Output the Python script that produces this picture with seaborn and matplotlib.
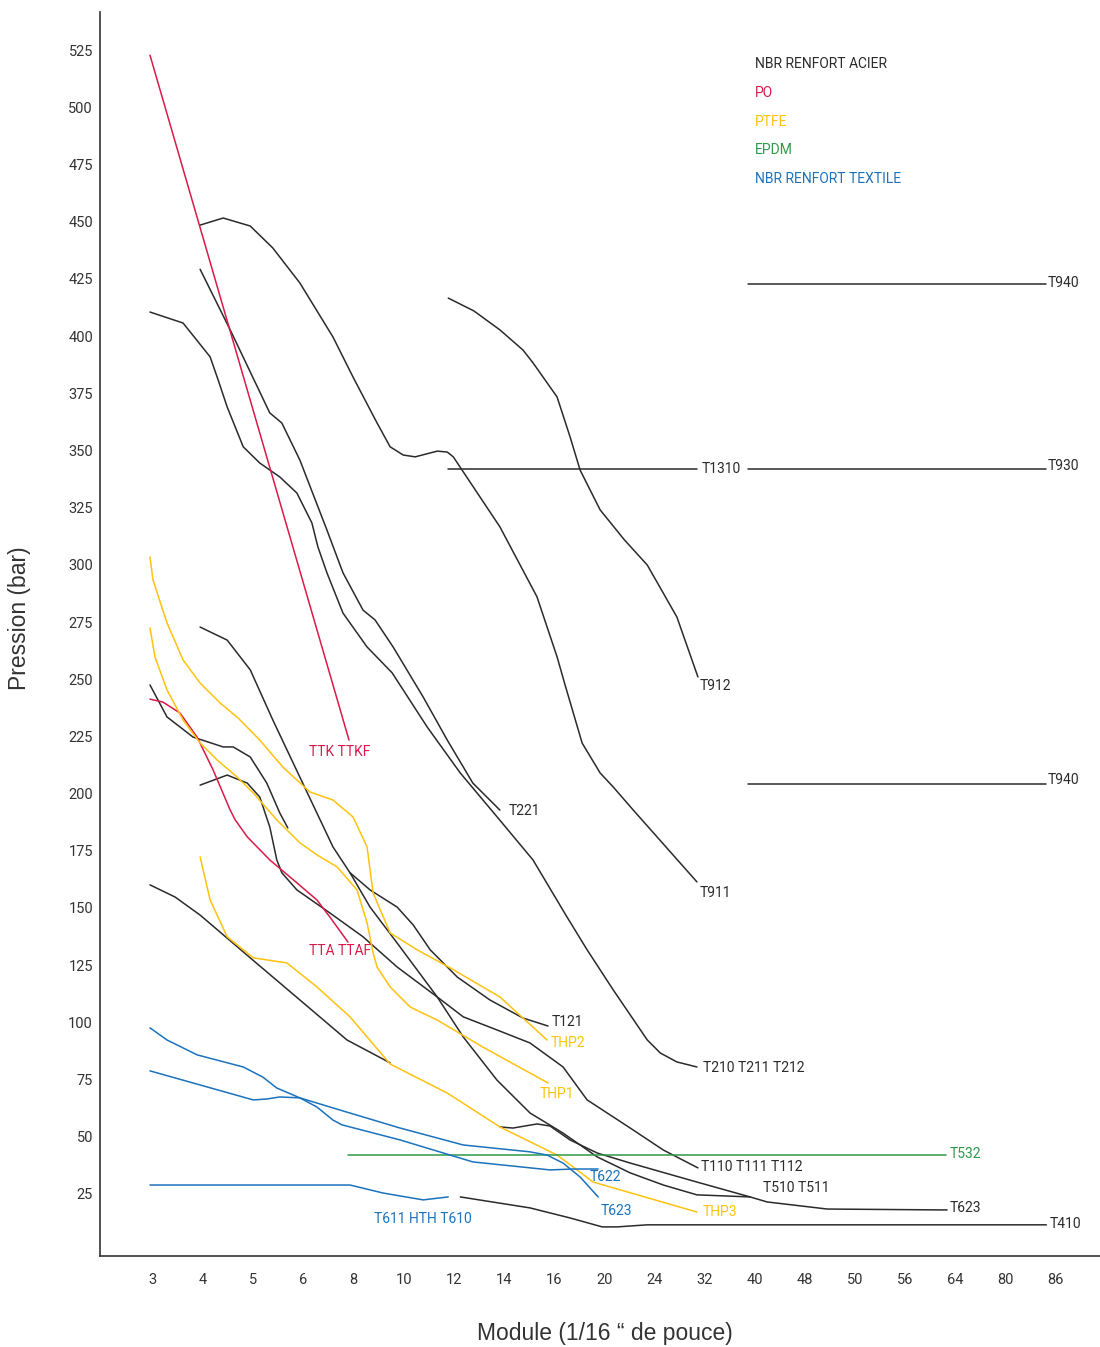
import pandas as pd
import seaborn as sns
import matplotlib.pyplot as plt

# x axis: module sizes shown at evenly spaced positions (index along the axis)
modules = ["3", "4", "5", "6", "8", "10", "12", "14", "16", "20",
           "24", "32", "40", "48", "50", "56", "64", "80", "86"]
y_ticks = list(range(25, 526, 25))

# Curves: x = position along the module axis, y = pressure (bar)
# NBR renfort acier
t911_x = [0.94, 1.40, 1.94, 2.39, 2.93, 3.59, 3.99, 4.47, 4.73, 4.99, 5.23, 5.67, 5.87, 5.99,
          6.92, 7.66, 8.06, 8.22, 8.56, 8.92, 9.18, 9.58, 10.85]
t911_y = [448.5, 451.6, 448.1, 438.5, 423.2, 399.6, 382.1, 362.0, 351.6, 348.0, 347.2, 349.7, 349.3, 347.2,
          316.6, 286.0, 259.8, 247.5, 222.1, 209.0, 202.9, 192.8, 161.4]

t912_x = [5.89, 6.40, 6.92, 7.38, 7.58, 8.06, 8.32, 8.52, 8.92, 9.40, 9.86, 10.45, 10.87]
t912_y = [416.6, 411.0, 402.7, 393.9, 388.3, 373.4, 355.9, 341.4, 324.0, 311.0, 299.9, 277.2, 251.0]

t221_x = [0.94, 1.54, 2.33, 2.57, 2.93, 3.47, 3.79, 4.19, 4.43, 4.79, 5.39, 5.87, 6.38, 6.92]
t221_y = [429.2, 402.7, 366.4, 362.0, 345.8, 315.2, 296.5, 280.2, 275.9, 264.1, 242.2, 223.4, 204.6, 192.8]

t210_x = [-0.06, 0.60, 1.14, 1.30, 1.48, 1.80, 2.13, 2.53, 2.87, 3.17, 3.29, 3.47, 3.79, 4.27,
          4.77, 5.47, 6.13, 6.88, 7.58, 8.26, 8.66, 9.18, 9.86, 10.12, 10.45, 10.85]
t210_y = [410.5, 405.7, 390.9, 380.8, 369.0, 351.6, 344.5, 338.4, 331.4, 318.3, 307.8, 296.5, 278.9, 264.1,
          252.8, 229.1, 209.0, 189.4, 171.0, 146.0, 131.7, 114.2, 92.3, 86.6, 82.7, 80.5]

t121_x = [0.94, 1.48, 1.94, 2.39, 2.93, 3.59, 3.93, 4.33, 4.87, 5.19, 5.53, 6.07, 6.72, 7.38, 7.88]
t121_y = [272.8, 267.1, 254.1, 232.2, 207.2, 176.7, 165.4, 157.9, 150.4, 142.6, 131.7, 119.8, 109.8, 101.9, 98.4]

t510_x = [3.93, 4.33, 4.87, 5.67, 6.19, 6.86, 7.52, 8.18, 8.86, 9.52, 10.18, 10.85, 11.91]
t510_y = [165.4, 150.4, 134.7, 111.1, 93.6, 74.8, 60.4, 51.6, 41.2, 34.2, 28.9, 24.6, 23.7]

t623_x = [6.92, 7.18, 7.66, 7.92, 8.32, 8.86, 9.52, 10.85, 11.91, 12.25, 13.45, 15.84]
t623_y = [54.3, 53.8, 55.6, 54.7, 48.6, 42.9, 38.5, 30.2, 23.7, 21.5, 18.4, 18.0]

t110_x = [0.94, 1.48, 1.88, 2.13, 2.33, 2.47, 2.57, 2.87, 3.53, 4.19, 4.87, 5.67, 6.19, 6.86,
          7.52, 8.18, 8.66, 9.52, 10.18, 10.87]
t110_y = [203.7, 208.1, 204.6, 198.5, 185.4, 171.0, 165.4, 157.9, 147.8, 137.4, 124.2, 111.1, 102.4, 96.7,
          91.0, 80.5, 66.1, 53.8, 44.2, 36.4]

short_x = [-0.06, 0.28, 0.80, 1.40, 1.60, 1.94, 2.27, 2.53, 2.69]
short_y = [247.5, 233.5, 224.7, 220.4, 220.4, 216.0, 204.6, 191.5, 185.0]

low_x = [-0.06, 0.44, 0.94, 1.94, 2.93, 3.87, 4.73]
low_y = [160.1, 154.8, 146.9, 128.2, 109.8, 92.3, 82.3]

t410_x = [6.13, 7.52, 8.32, 8.96, 9.26, 9.86, 17.82]
t410_y = [23.7, 18.9, 14.5, 10.6, 10.6, 11.5, 11.5]

t1310_x = [5.89, 10.85]
t1310_y = [342.0, 342.0]
t930_x = [11.87, 17.82]
t930_y = [342.0, 342.0]
t940a_x = [11.87, 17.82]
t940a_y = [422.7, 422.7]
t940b_x = [11.87, 17.82]
t940b_y = [204.3, 204.3]

# PO
ttk_x = [-0.06, 3.91]
ttk_y = [522.8, 223.4]
tta_x = [-0.06, 0.20, 0.54, 0.88, 1.20, 1.54, 1.64, 1.88, 2.33, 2.87, 3.27, 3.53, 3.89]
tta_y = [241.3, 240.0, 235.2, 224.7, 210.3, 192.8, 188.5, 181.1, 171.0, 161.0, 153.5, 146.0, 135.1]

# PTFE
thp2_x = [-0.06, 0.00, 0.28, 0.60, 0.94, 1.34, 1.70, 2.13, 2.59, 3.13, 3.59, 3.99, 4.27, 4.39,
          4.73, 5.27, 5.93, 6.92, 7.86]
thp2_y = [303.4, 293.4, 274.6, 258.4, 248.3, 239.6, 233.0, 223.4, 211.6, 200.7, 197.2, 189.8, 176.7, 156.6,
          139.1, 131.7, 123.8, 111.1, 92.3]

thp1_x = [-0.06, 0.04, 0.28, 0.60, 0.94, 1.28, 1.68, 2.00, 2.47, 2.93, 3.27, 3.67, 4.07, 4.27,
          4.39, 4.47, 4.73, 5.13, 5.67, 6.58, 7.88]
thp1_y = [272.4, 259.7, 245.3, 232.2, 222.1, 214.7, 207.2, 200.3, 188.5, 178.5, 173.2, 168.0, 157.9, 143.5,
          130.4, 124.2, 115.5, 106.7, 101.0, 89.2, 73.5]

thp3_x = [0.94, 1.14, 1.48, 2.00, 2.67, 3.27, 3.93, 4.73, 5.87, 6.92, 8.06, 8.46, 8.78, 10.85]
thp3_y = [172.3, 153.5, 137.4, 128.2, 126.0, 115.5, 102.4, 81.8, 69.1, 54.3, 42.0, 35.5, 30.2, 17.1]

# EPDM
t532_x = [3.89, 15.82]
t532_y = [42.0, 42.0]

# NBR renfort textile
t622_x = [-0.06, 0.28, 0.88, 1.80, 2.19, 2.47, 2.93, 3.27, 3.59, 3.77, 4.93, 6.38, 7.92, 8.38, 8.88]
t622_y = [97.6, 92.3, 85.8, 80.5, 76.1, 71.3, 67.0, 63.0, 57.3, 55.2, 48.6, 39.0, 35.5, 35.9, 35.9]

t623b_x = [-0.06, 2.00, 2.27, 2.53, 2.93, 3.59, 4.93, 6.19, 7.52, 7.86, 8.18, 8.52, 8.88]
t623b_y = [78.8, 66.1, 66.5, 67.4, 67.0, 62.6, 53.8, 46.4, 43.4, 42.0, 38.5, 32.4, 23.7]

t611_x = [-0.06, 3.93, 4.59, 5.39, 5.89]
t611_y = [28.9, 28.9, 25.4, 22.4, 23.7]

families = ["NBR RENFORT ACIER", "PO", "PTFE", "EPDM", "NBR RENFORT TEXTILE"]
colors = ["#2b2b2b", "#d81b4a", "#ffc20e", "#2e9a48", "#1b72bd"]
palette = dict(zip(families, colors))

curves = [
    ("t911", "NBR RENFORT ACIER", t911_x, t911_y),
    ("t912", "NBR RENFORT ACIER", t912_x, t912_y),
    ("t221", "NBR RENFORT ACIER", t221_x, t221_y),
    ("t210", "NBR RENFORT ACIER", t210_x, t210_y),
    ("t121", "NBR RENFORT ACIER", t121_x, t121_y),
    ("t510", "NBR RENFORT ACIER", t510_x, t510_y),
    ("t623", "NBR RENFORT ACIER", t623_x, t623_y),
    ("t110", "NBR RENFORT ACIER", t110_x, t110_y),
    ("short", "NBR RENFORT ACIER", short_x, short_y),
    ("low", "NBR RENFORT ACIER", low_x, low_y),
    ("t410", "NBR RENFORT ACIER", t410_x, t410_y),
    ("t1310", "NBR RENFORT ACIER", t1310_x, t1310_y),
    ("t930", "NBR RENFORT ACIER", t930_x, t930_y),
    ("t940a", "NBR RENFORT ACIER", t940a_x, t940a_y),
    ("t940b", "NBR RENFORT ACIER", t940b_x, t940b_y),
    ("ttk", "PO", ttk_x, ttk_y),
    ("tta", "PO", tta_x, tta_y),
    ("thp2", "PTFE", thp2_x, thp2_y),
    ("thp1", "PTFE", thp1_x, thp1_y),
    ("thp3", "PTFE", thp3_x, thp3_y),
    ("t532", "EPDM", t532_x, t532_y),
    ("t622", "NBR RENFORT TEXTILE", t622_x, t622_y),
    ("t623b", "NBR RENFORT TEXTILE", t623b_x, t623b_y),
    ("t611", "NBR RENFORT TEXTILE", t611_x, t611_y),
]

rows = []
for name, fam, xs, ys in curves:
    for x, y in zip(xs, ys):
        rows.append({"curve": name, "family": fam, "x": x, "y": y})
df = pd.DataFrame(rows)

# curve labels (text, family, x, y)
labels = [
    ("TTK TTKF", "PO", 3.11, 218.1),
    ("TTA TTAF", "PO", 3.11, 131.2),
    ("T221", "NBR RENFORT ACIER", 7.10, 192.4),
    ("T911", "NBR RENFORT ACIER", 10.91, 156.6),
    ("T912", "NBR RENFORT ACIER", 10.91, 247.1),
    ("T1310", "NBR RENFORT ACIER", 10.95, 341.9),
    ("T930", "NBR RENFORT ACIER", 17.84, 343.2),
    ("T940", "NBR RENFORT ACIER", 17.84, 423.1),
    ("T940", "NBR RENFORT ACIER", 17.84, 206.0),
    ("T121", "NBR RENFORT ACIER", 7.96, 100.2),
    ("THP2", "PTFE", 7.94, 91.0),
    ("THP1", "PTFE", 7.72, 68.7),
    ("T210 T211 T212", "NBR RENFORT ACIER", 10.97, 80.0),
    ("T110 T111 T112", "NBR RENFORT ACIER", 10.93, 36.8),
    ("T510 T511", "NBR RENFORT ACIER", 12.17, 27.6),
    ("T532", "EPDM", 15.90, 42.4),
    ("T623", "NBR RENFORT ACIER", 15.90, 18.9),
    ("T410", "NBR RENFORT ACIER", 17.88, 11.9),
    ("T622", "NBR RENFORT TEXTILE", 8.72, 32.4),
    ("T623", "NBR RENFORT TEXTILE", 8.92, 17.5),
    ("THP3", "PTFE", 10.97, 17.1),
    ("T611 HTH T610", "NBR RENFORT TEXTILE", 4.41, 14.1),
]

sns.set_theme(style="white")
plt.rcParams["font.family"] = ["Roboto", "DejaVu Sans"]

fig = plt.figure(figsize=(11, 13.47), dpi=100)
ax = fig.add_axes([0.0909, 0.0676, 0.9091, 0.9234])

sns.lineplot(data=df, x="x", y="y", hue="family", palette=palette, units="curve",
             estimator=None, sort=False, legend=False, linewidth=1.1, ax=ax)

for text, fam, x, y in labels:
    ax.text(x, y, text, color=palette[fam], fontsize=10, ha="left", va="center")

# legend as coloured text
legend_y = [518.9, 506.2, 493.5, 481.3, 468.6]
for fam, ly in zip(families, legend_y):
    ax.text(12.01, ly, fam, color=palette[fam], fontsize=10, ha="left", va="center")

ax.set_xlim(-1.057, 18.89)
ax.set_ylim(-2.1, 541.6)
ax.set_xticks(range(len(modules)))
ax.set_xticklabels(modules)
ax.set_yticks(y_ticks)
ax.tick_params(axis="both", length=0, labelsize=10.5, colors="#333333")
ax.tick_params(axis="x", pad=12)
ax.tick_params(axis="y", pad=5)

for side in ["top", "right"]:
    ax.spines[side].set_visible(False)
for side in ["left", "bottom"]:
    ax.spines[side].set_color("#333333")
    ax.spines[side].set_linewidth(1.2)

ax.set_xlabel("Module (1/16 “ de pouce)", fontsize=16.5, color="#333333",
              family=["Liberation Sans", "DejaVu Sans"], va="center")
ax.set_ylabel("Pression (bar)", fontsize=16.5, color="#333333",
              family=["Liberation Sans", "DejaVu Sans"], va="center")
ax.xaxis.set_label_coords(0.505, -0.062)
ax.yaxis.set_label_coords(-0.08, 0.513)

fig.savefig("out.png", dpi=100)
